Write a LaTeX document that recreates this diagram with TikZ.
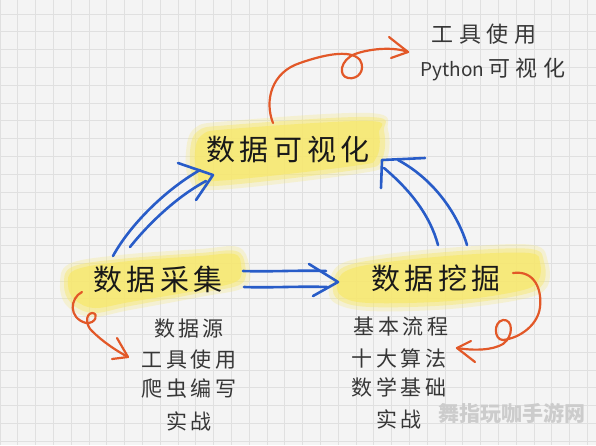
\documentclass[tikz,border=0pt]{standalone}
\usepackage{fontspec}
\newfontfamily\cjk{Noto Sans CJK SC}
\newfontfamily\cjkhead[LetterSpace=16]{Noto Sans CJK SC}
\newfontfamily\cjklist[LetterSpace=16]{Noto Sans CJK SC}
\newfontfamily\cjktop[LetterSpace=25]{Noto Sans CJK SC}
\usetikzlibrary{calc}
\definecolor{bg}{RGB}{244,244,244}
\definecolor{gridc}{RGB}{224,224,224}
\definecolor{hl}{RGB}{247,232,110}
\definecolor{blu}{RGB}{40,92,200}
\definecolor{org}{RGB}{226,88,40}
\definecolor{ink}{RGB}{25,25,25}
\definecolor{ink2}{RGB}{55,55,55}
\tikzset{
  headtxt/.style={inner sep=0pt, text=ink, font=\cjkhead\fontsize{29}{29}\selectfont},
  listtxt/.style={inner sep=0pt, text=ink2, font=\cjklist\fontsize{21}{21}\selectfont},
  toptxt/.style={inner sep=0pt, text=ink2, font=\cjktop\fontsize{22}{22}\selectfont},
  bluepen/.style={draw=blu, line width=2.6pt, line cap=round, line join=round},
  orgpen/.style={draw=org, line width=2.2pt, line cap=round, line join=round},
  hlfaint/.style={fill=hl, opacity=0.25},
  hlsoft/.style={fill=hl, opacity=0.45},
  hlcore/.style={fill=hl, opacity=0.75},
}
\begin{document}
\begin{tikzpicture}[x=1pt,y=-1pt]
\useasboundingbox (0,0) rectangle (596,445);
\fill[bg] (0,0) rectangle (596,445);
% grid
\foreach \i in {0,...,34} \draw[gridc, line width=1pt] (\i*17.8,0) -- (\i*17.8,445);
\foreach \j in {0,...,24} \draw[gridc, line width=1pt] (0,14+\j*17.8) -- (596,14+\j*17.8);

% highlighter blobs
\fill[hlfaint] plot[smooth cycle, tension=0.6] coordinates {(186,152) (195,128) (230,121) (370,113) (388,130) (385,163) (356,174) (215,190) (190,181)};
\fill[hlsoft] plot[smooth cycle, tension=0.6] coordinates {(190,152) (198,131) (230,125) (370,117) (384,131) (381,161) (355,170) (215,186) (194,178)};
\fill[hlcore] plot[smooth cycle, tension=0.6] coordinates {(195,152) (202,135) (230,129) (368,121) (379,133) (376,158) (353,166) (215,181) (198,174)};

\fill[hlfaint] plot[smooth cycle, tension=0.6] coordinates {(60,285) (69,264) (120,255) (200,249) (238,247) (249,265) (245,287) (200,297) (130,310) (91,317) (67,306)};
\fill[hlsoft] plot[smooth cycle, tension=0.6] coordinates {(64,285) (72,267) (120,259) (200,253) (236,251) (245,265) (241,284) (200,293) (130,306) (93,313) (71,303)};
\fill[hlcore] plot[smooth cycle, tension=0.6] coordinates {(68,285) (75,270) (120,262) (200,256) (234,254) (241,265) (237,281) (200,290) (130,302) (95,308) (75,300)};

\fill[hlfaint] plot[smooth cycle, tension=0.6] coordinates {(329,287) (339,265) (380,255) (460,247) (533,245) (548,262) (547,287) (523,299) (450,309) (370,311) (335,303)};
\fill[hlsoft] plot[smooth cycle, tension=0.6] coordinates {(333,286) (342,268) (380,259) (460,251) (531,249) (544,262) (543,284) (521,295) (450,305) (370,307) (339,300)};
\fill[hlcore] plot[smooth cycle, tension=0.6] coordinates {(337,285) (346,271) (380,263) (460,255) (529,253) (540,263) (538,281) (519,291) (450,301) (370,303) (343,297)};

% heading nodes
\node[headtxt] (vis) at (288,150) {数据可视化};
\node[headtxt] (col) at (158,279) {数据采集};
\node[headtxt] (min) at (436,278) {数据挖掘};

% top notes
\node[toptxt] (t1) at (484,34) {工具使用};
\node[inner sep=0pt, text=ink2] (t2) at (493,69) {{\cjk\fontsize{19}{19}\selectfont Python}\hspace{4pt}{\cjktop\fontsize{22}{22}\selectfont 可视化}};

% left list
\node[listtxt] (l1) at (189,329) {数据源};
\node[listtxt] (l2) at (189,360) {工具使用};
\node[listtxt] (l3) at (189,389) {爬虫编写};
\node[listtxt] (l4) at (189,421) {实战};

% right list
\node[listtxt] (r1) at (401,327) {基本流程};
\node[listtxt] (r2) at (399,358) {十大算法};
\node[listtxt] (r3) at (399,387) {数学基础};
\node[listtxt] (r4) at (399,419) {实战};

% connector end points
\coordinate (c1a) at (113,256);
\coordinate (c1b) at (130,247);
\coordinate (v1) at (213,175);
\coordinate (m1a) at (438,245);
\coordinate (m1b) at (467,245);
\coordinate (v2) at (382,160);
\coordinate (c2a) at (243,271);
\coordinate (c2b) at (244,287);
\coordinate (m2) at (338,282);

% blue: collection -> visualisation
\draw[bluepen] (c1a) .. controls (130,225) and (165,190) .. (200,170);
\draw[bluepen] (c1b) .. controls (150,222) and (178,196) .. (206,181);
\draw[bluepen] (178,163) -- (v1) -- (196,200);

% blue: mining -> visualisation
\draw[bluepen] (m1a) .. controls (430,215) and (410,190) .. (384,168);
\draw[bluepen] (m1b) .. controls (458,215) and (435,180) .. (398,160);
\draw[bluepen] (425,158) -- (v2) -- (381,188);

% blue: collection -> mining
\draw[bluepen] (c2a) .. controls (270,272) and (300,270) .. (326,271);
\draw[bluepen] (c2b) .. controls (270,288) and (300,286) .. (327,287);
\draw[bluepen] (309,264) -- (m2) -- (313,296);

% orange: visualisation -> top notes
\coordinate (o1s) at (273,123);
\coordinate (o1e) at (408,52);
\draw[orgpen] (o1s) .. controls (264,100) and (272,72) .. (300,63)
  .. controls (320,56) and (350,48) .. (360,60)
  .. controls (366,70) and (358,80) .. (348,78)
  .. controls (338,76) and (340,60) .. (355,54)
  .. controls (372,48) and (395,47) .. (o1e);
\draw[orgpen] (389,37) -- (o1e) -- (391,58);

% orange: collection -> left list
\coordinate (o2s) at (82,292);
\coordinate (o2e) at (128,357);
\draw[orgpen] (o2s) .. controls (70,298) and (68,318) .. (86,323)
  .. controls (96,324) and (99,313) .. (92,313)
  .. controls (85,314) and (86,326) .. (92,331)
  .. controls (102,341) and (115,350) .. (o2e);
\draw[orgpen] (117,338) -- (o2e) -- (112,359);

% orange: mining -> right list
\coordinate (o3s) at (513,273);
\coordinate (o3e) at (457,348);
\draw[orgpen] (o3s) .. controls (535,270) and (542,290) .. (540,307)
  .. controls (538,325) and (520,338) .. (503,340)
  .. controls (494,340) and (493,322) .. (503,320)
  .. controls (513,319) and (514,336) .. (503,344)
  .. controls (493,350) and (475,351) .. (o3e);
\draw[orgpen] (471,341) -- (o3e) -- (475,362);

% watermark
\node[inner sep=0pt, text=gray!40, font=\cjk\bfseries\fontsize{21}{21}\selectfont] (wm) at (512,413) {舞指玩咖手游网};
\end{tikzpicture}
\end{document}
